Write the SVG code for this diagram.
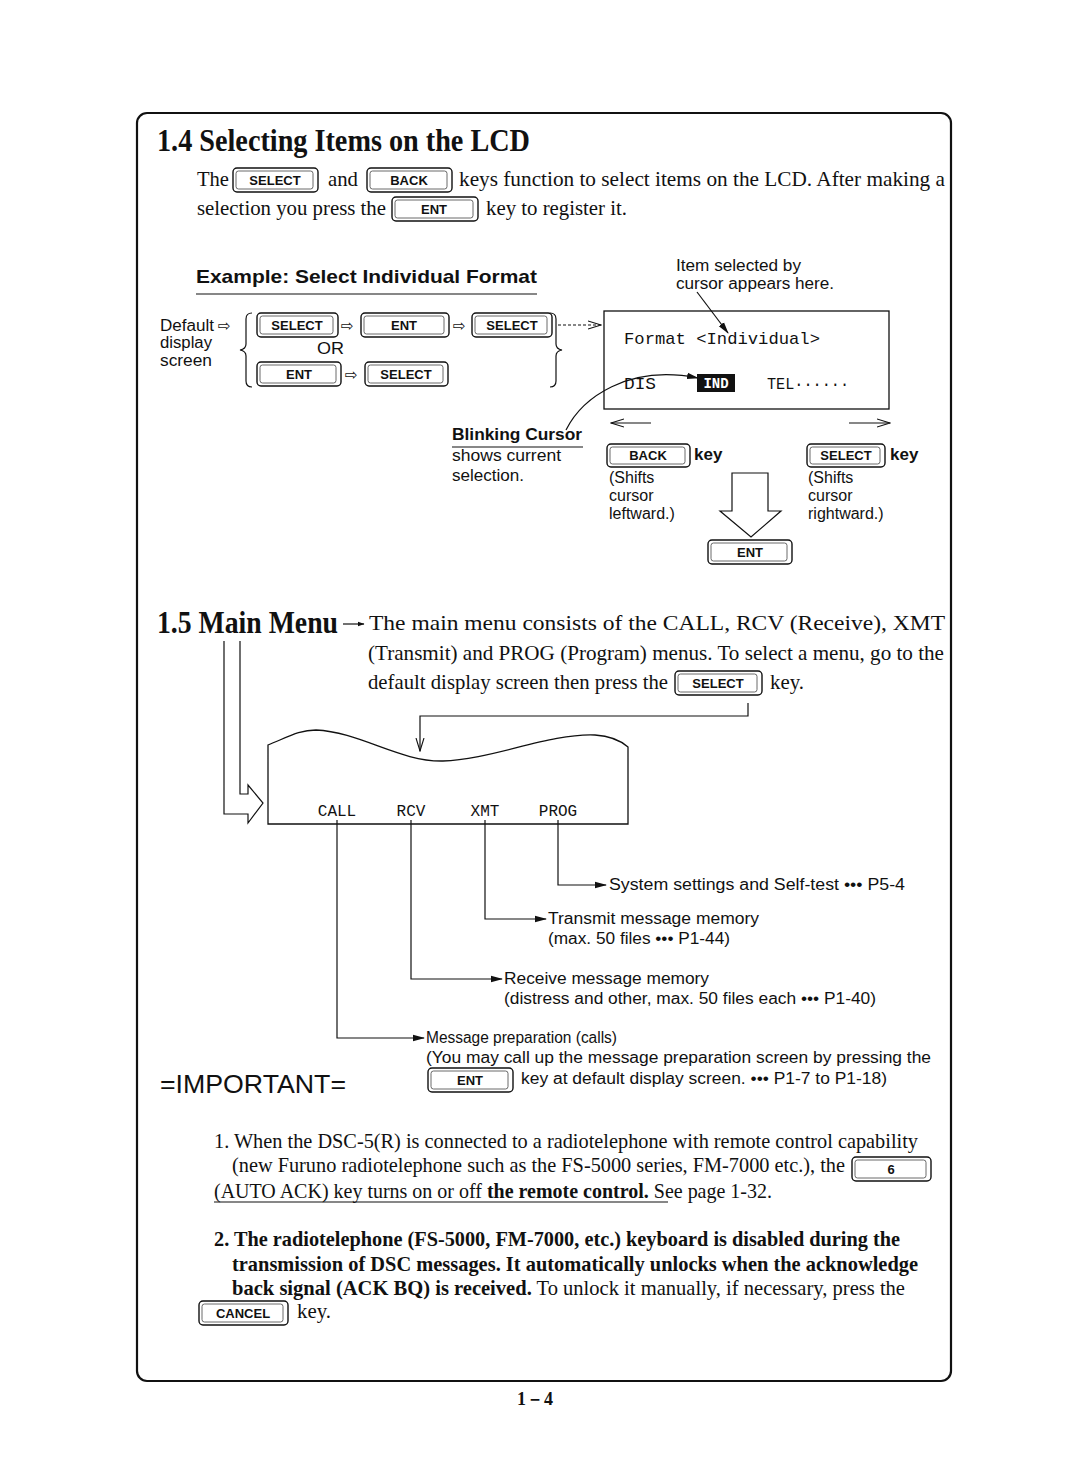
<svg xmlns="http://www.w3.org/2000/svg" width="1080" height="1461" viewBox="0 0 1080 1461">
<style>
.serif{font-family:"Liberation Serif","Times New Roman",serif;font-size:21px;fill:#111}
.sb{font-weight:bold}
.sans{font-family:"Liberation Sans",Arial,sans-serif;font-size:16px;fill:#111}
.mono{font-family:"Liberation Mono","Courier New",monospace;font-size:16px;fill:#111}
.ko{fill:#fff;stroke:#111;stroke-width:1.4}
.ki{fill:none;stroke:#444;stroke-width:0.8}
.kt{font-family:"Liberation Sans",Arial,sans-serif;font-weight:bold;font-size:13px;text-anchor:middle;fill:#111}
.ln{fill:none;stroke:#111;stroke-width:1.2}
.sym{font-family:"DejaVu Sans",sans-serif;font-size:15px;fill:#111}
</style>
<defs>
<marker id="tri" markerWidth="12" markerHeight="8" refX="11" refY="4" orient="auto" markerUnits="userSpaceOnUse">
<path d="M0,0.8 L12,4 L0,7.2 Z" fill="#111"/>
</marker>
<marker id="small" markerWidth="7" markerHeight="6" refX="6.5" refY="3" orient="auto" markerUnits="userSpaceOnUse">
<path d="M0,0.5 L7,3 L0,5.5 Z" fill="#111"/>
</marker>
<marker id="vee" markerWidth="14" markerHeight="10" refX="13" refY="5" orient="auto" markerUnits="userSpaceOnUse">
<path d="M0,1 L13,5 L0,9" fill="none" stroke="#111" stroke-width="1.1"/>
</marker>
</defs>
<rect width="1080" height="1461" fill="#fff"/>

<g id="frame">
<rect x="137" y="113" width="814" height="1268" rx="10" ry="10" fill="none" stroke="#111" stroke-width="2.2"/>
</g>

<g id="section-1-4">
<text class="serif sb" x="157" y="151" style="font-size:31px" textLength="373" lengthAdjust="spacingAndGlyphs">1.4 Selecting Items on the LCD</text>
<text class="serif" x="197" y="186" textLength="32" lengthAdjust="spacingAndGlyphs">The</text>
<g id="key-select-top"><rect class="ko" x="233" y="168" width="85" height="24" rx="4"/><rect class="ki" x="236" y="171" width="77" height="18" rx="2.5"/><text class="kt" x="275" y="185">SELECT</text></g>
<text class="serif" x="328" y="186" textLength="30" lengthAdjust="spacingAndGlyphs">and</text>
<g id="key-back-top"><rect class="ko" x="367" y="168" width="85" height="24" rx="4"/><rect class="ki" x="370" y="171" width="77" height="18" rx="2.5"/><text class="kt" x="409" y="185">BACK</text></g>
<text class="serif" x="459" y="186" textLength="486" lengthAdjust="spacingAndGlyphs">keys function to select items on the LCD. After making a</text>
<text class="serif" x="197" y="215" textLength="189" lengthAdjust="spacingAndGlyphs">selection you press the</text>
<g id="key-ent-top"><rect class="ko" x="392" y="197" width="86" height="24" rx="4"/><rect class="ki" x="395" y="200" width="78" height="18" rx="2.5"/><text class="kt" x="434" y="214">ENT</text></g>
<text class="serif" x="486" y="215" textLength="141" lengthAdjust="spacingAndGlyphs">key to register it.</text>
</g>

<g id="example">
<text class="sans" x="196" y="283" style="font-size:19px" font-weight="bold" textLength="341" lengthAdjust="spacingAndGlyphs">Example: Select Individual Format</text>
<line class="ln" x1="196" y1="294" x2="537" y2="294"/>
<text class="sans" x="160" y="331" textLength="54" lengthAdjust="spacingAndGlyphs">Default</text>
<text class="sym" x="218" y="331">⇨</text>
<text class="sans" x="160" y="348" textLength="52" lengthAdjust="spacingAndGlyphs">display</text>
<text class="sans" x="160" y="366" textLength="52" lengthAdjust="spacingAndGlyphs">screen</text>
<path class="ln" d="M252 313 Q246 313 246 319 V344 Q246 349 240 350 Q246 351 246 356 V381 Q246 387 252 387"/>
<path class="ln" d="M550 313 Q556 313 556 319 V344 Q556 349 562 350 Q556 351 556 356 V381 Q556 387 550 387"/>
<g id="key-r1-select"><rect class="ko" x="257" y="313" width="81" height="24" rx="4"/><rect class="ki" x="260" y="316" width="73" height="18" rx="2.5"/><text class="kt" x="297" y="330">SELECT</text></g>
<text class="sym" x="341" y="331">⇨</text>
<g id="key-r1-ent"><rect class="ko" x="361" y="313" width="88" height="24" rx="4"/><rect class="ki" x="364" y="316" width="80" height="18" rx="2.5"/><text class="kt" x="404" y="330">ENT</text></g>
<text class="sym" x="453" y="331">⇨</text>
<g id="key-r1-select2"><rect class="ko" x="472" y="313" width="80" height="24" rx="4" stroke-width="1.8"/><rect class="ki" x="475" y="316" width="72" height="18" rx="2.5"/><text class="kt" x="512" y="330">SELECT</text></g>
<text class="sans" x="317" y="354" style="font-size:17px" textLength="27" lengthAdjust="spacingAndGlyphs">OR</text>
<g id="key-r2-ent"><rect class="ko" x="257" y="362" width="84" height="24" rx="4"/><rect class="ki" x="260" y="365" width="76" height="18" rx="2.5"/><text class="kt" x="299" y="379">ENT</text></g>
<text class="sym" x="345" y="380">⇨</text>
<g id="key-r2-select"><rect class="ko" x="365" y="362" width="83" height="24" rx="4" stroke-width="1.8"/><rect class="ki" x="368" y="365" width="75" height="18" rx="2.5"/><text class="kt" x="406" y="379">SELECT</text></g>
</g>

<g id="lcd">
<text class="sans" x="676" y="271" textLength="125" lengthAdjust="spacingAndGlyphs">Item selected by</text>
<text class="sans" x="676" y="289" textLength="158" lengthAdjust="spacingAndGlyphs">cursor appears here.</text>
<rect x="604" y="311" width="285" height="98" fill="none" stroke="#111" stroke-width="1.3"/>
<text class="mono" x="624" y="344" style="font-size:17px" textLength="196" lengthAdjust="spacingAndGlyphs">Format &lt;Individual&gt;</text>
<text class="mono" x="624" y="389" textLength="32" lengthAdjust="spacingAndGlyphs">DIS</text>
<rect x="697" y="374" width="38" height="18" fill="#111"/>
<text class="mono" x="716" y="388" font-weight="bold" text-anchor="middle" style="fill:#fff;font-size:14px">IND</text>
<text class="mono" x="767" y="389" textLength="82" lengthAdjust="spacingAndGlyphs">TEL······</text>
</g>

<g id="cursor-note">
<text class="sans" x="452" y="440" font-weight="bold" textLength="130" lengthAdjust="spacingAndGlyphs">Blinking Cursor</text>
<line class="ln" x1="452" y1="447" x2="583" y2="447"/>
<text class="sans" x="452" y="461" textLength="109" lengthAdjust="spacingAndGlyphs">shows current</text>
<text class="sans" x="452" y="481" textLength="72" lengthAdjust="spacingAndGlyphs">selection.</text>
</g>

<g id="back-key-block">
<g id="key-back"><rect class="ko" x="607" y="444" width="83" height="23" rx="4"/><rect class="ki" x="610" y="447" width="75" height="17" rx="2.5"/><text class="kt" x="648" y="460">BACK</text></g>
<text class="sans" x="694" y="460" style="font-size:17px" font-weight="bold">key</text>
<text class="sans" x="609" y="483">(Shifts</text>
<text class="sans" x="609" y="501">cursor</text>
<text class="sans" x="609" y="519">leftward.)</text>
</g>

<g id="select-key-block">
<g id="key-select"><rect class="ko" x="807" y="444" width="78" height="23" rx="4"/><rect class="ki" x="810" y="447" width="70" height="17" rx="2.5"/><text class="kt" x="846" y="460">SELECT</text></g>
<text class="sans" x="890" y="460" style="font-size:17px" font-weight="bold">key</text>
<text class="sans" x="808" y="483">(Shifts</text>
<text class="sans" x="808" y="501">cursor</text>
<text class="sans" x="808" y="519">rightward.)</text>
</g>

<g id="ent-key-block">
<path d="M732 473 H768 V511 H781 L751 537 L720 511 H732 Z" fill="#fff" stroke="#111" stroke-width="1.2"/>
<g id="key-ent"><rect class="ko" x="708" y="540" width="84" height="24" rx="4"/><rect class="ki" x="711" y="543" width="76" height="18" rx="2.5"/><text class="kt" x="750" y="557">ENT</text></g>
</g>

<g id="section-1-5">
<text class="serif sb" x="157" y="633" style="font-size:31px" textLength="181" lengthAdjust="spacingAndGlyphs">1.5 Main Menu</text>
<text class="serif" x="369" y="630" textLength="576" lengthAdjust="spacingAndGlyphs">The main menu consists of the CALL, RCV (Receive), XMT</text>
<text class="serif" x="368" y="660" textLength="576" lengthAdjust="spacingAndGlyphs">(Transmit) and PROG (Program) menus. To select a menu, go to the</text>
<text class="serif" x="368" y="689" textLength="300" lengthAdjust="spacingAndGlyphs">default display screen then press the</text>
<g id="key-select-menu"><rect class="ko" x="675" y="671" width="87" height="24" rx="4"/><rect class="ki" x="678" y="674" width="79" height="18" rx="2.5"/><text class="kt" x="718" y="688">SELECT</text></g>
<text class="serif" x="770" y="689" textLength="34" lengthAdjust="spacingAndGlyphs">key.</text>
</g>

<g id="main-menu">
<path d="M268 745 C290 736 300 730 316 730 C360 732 400 762 443 761 C490 760 550 733 595 735 C610 736 620 740 628 747 V824 H268 Z" fill="#fff" stroke="#111" stroke-width="1.3"/>
<text class="mono" x="337" y="816" text-anchor="middle">CALL</text>
<text class="mono" x="411" y="816" text-anchor="middle">RCV</text>
<text class="mono" x="485" y="816" text-anchor="middle">XMT</text>
<text class="mono" x="558" y="816" text-anchor="middle">PROG</text>
</g>

<g id="menu-notes">
<text class="sans" x="609" y="890" textLength="296" lengthAdjust="spacingAndGlyphs">System settings and Self-test ••• P5-4</text>
<text class="sans" x="548" y="924" textLength="211" lengthAdjust="spacingAndGlyphs">Transmit message memory</text>
<text class="sans" x="548" y="944" textLength="182" lengthAdjust="spacingAndGlyphs">(max. 50 files ••• P1-44)</text>
<text class="sans" x="504" y="984" textLength="205" lengthAdjust="spacingAndGlyphs">Receive message memory</text>
<text class="sans" x="504" y="1004" textLength="372" lengthAdjust="spacingAndGlyphs">(distress and other, max. 50 files each ••• P1-40)</text>
<text class="sans" x="426" y="1043" textLength="191" lengthAdjust="spacingAndGlyphs">Message preparation (calls)</text>
<text class="sans" x="426" y="1063" textLength="505" lengthAdjust="spacingAndGlyphs">(You may call up the message preparation screen by pressing the</text>
<g id="key-ent-menu"><rect class="ko" x="428" y="1068" width="85" height="24" rx="4"/><rect class="ki" x="431" y="1071" width="77" height="18" rx="2.5"/><text class="kt" x="470" y="1085">ENT</text></g>
<text class="sans" x="521" y="1084" textLength="366" lengthAdjust="spacingAndGlyphs">key at default display screen. ••• P1-7 to P1-18)</text>
</g>

<g id="important">
<text class="sans" x="160" y="1093" style="font-size:25px" textLength="186" lengthAdjust="spacingAndGlyphs">=IMPORTANT=</text>
<text class="serif" x="214" y="1148" textLength="704" lengthAdjust="spacingAndGlyphs">1. When the DSC-5(R) is connected to a radiotelephone with remote control capability</text>
<text class="serif" x="232" y="1172" textLength="613" lengthAdjust="spacingAndGlyphs">(new Furuno radiotelephone such as the FS-5000 series, FM-7000 etc.), the</text>
<g id="key-6"><rect class="ko" x="852" y="1157" width="79" height="24" rx="4"/><rect class="ki" x="855" y="1160" width="71" height="18" rx="2.5"/><text class="kt" x="891" y="1174">6</text></g>
<text class="serif" x="214" y="1198" textLength="558" lengthAdjust="spacingAndGlyphs">(AUTO ACK) key turns on or off <tspan font-weight="bold">the remote control.</tspan> See page 1-32.</text>
<line class="ln" x1="214" y1="1202" x2="668" y2="1202"/>
<text class="serif sb" x="214" y="1246" textLength="686" lengthAdjust="spacingAndGlyphs">2. The radiotelephone (FS-5000, FM-7000, etc.) keyboard is disabled during the</text>
<text class="serif sb" x="232" y="1271" textLength="686" lengthAdjust="spacingAndGlyphs">transmission of DSC messages. It automatically unlocks when the acknowledge</text>
<text class="serif" x="232" y="1295" textLength="673" lengthAdjust="spacingAndGlyphs"><tspan font-weight="bold">back signal (ACK BQ) is received.</tspan> To unlock it manually, if necessary, press the</text>
<g id="key-cancel"><rect class="ko" x="199" y="1301" width="89" height="24" rx="4"/><rect class="ki" x="202" y="1304" width="81" height="18" rx="2.5"/><text class="kt" x="243" y="1318">CANCEL</text></g>
<text class="serif" x="297" y="1318" textLength="34" lengthAdjust="spacingAndGlyphs">key.</text>
</g>

<g id="page-number">
<text class="serif sb" x="535" y="1405" style="font-size:18px" text-anchor="middle">1－4</text>
</g>

<g id="connectors">
<line class="ln" x1="343" y1="624" x2="364" y2="624" stroke-width="1" marker-end="url(#small)"/>
<line class="ln" x1="558" y1="325" x2="601" y2="325" stroke-dasharray="3 2" marker-end="url(#vee)"/>
<line class="ln" x1="697" y1="292" x2="728" y2="333" marker-end="url(#tri)"/>
<path class="ln" d="M566 430 C582 398 628 364 698 378" marker-end="url(#tri)"/>
<line class="ln" x1="651" y1="423" x2="611" y2="423" marker-end="url(#vee)"/>
<line class="ln" x1="849" y1="423" x2="890" y2="423" marker-end="url(#vee)"/>
<path class="ln" d="M224 641 V814 H248 V823 L263 803 L248 785 V794 H240 V641"/>
<path class="ln" d="M748 703 V716 H420 V751" marker-end="url(#vee)"/>
<path class="ln" d="M558 820 V885 H606" marker-end="url(#tri)"/>
<path class="ln" d="M485 820 V919 H546" marker-end="url(#tri)"/>
<path class="ln" d="M411 820 V979 H502" marker-end="url(#tri)"/>
<path class="ln" d="M337 820 V1038 H424" marker-end="url(#tri)"/>
</g>
</svg>
